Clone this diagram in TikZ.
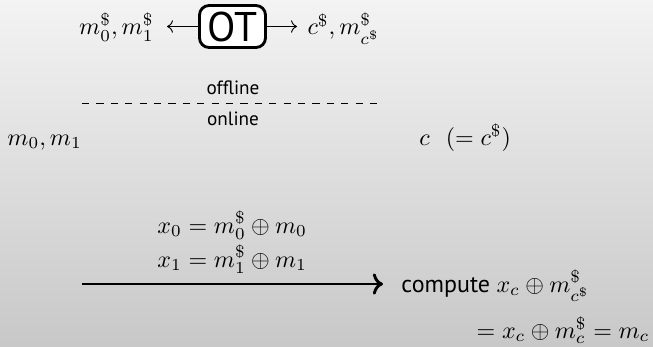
\documentclass[tikz,border=0pt]{standalone}
\usepackage{fontspec}
\setsansfont{PT Sans}
\usetikzlibrary{arrows.meta}
\definecolor{bgtop}{HTML}{F3F3F3}
\definecolor{bgbot}{HTML}{C8C8C8}
\begin{document}
\begin{tikzpicture}[x=0.41667pt,y=-0.41667pt,
  lbl/.style={inner sep=0pt, font=\normalsize},
  sm/.style={inner sep=0pt, font=\sffamily\footnotesize},
  otbox/.style={draw, line width=1.2pt, rounded corners=4pt, fill=white,
    minimum width=27.5pt, minimum height=17.5pt, inner sep=0pt, font=\sffamily\LARGE},
  thinarr/.style={->, line width=0.4pt},
  thickarr/.style={->, line width=1.2pt}]
\shade[top color=bgtop, bottom color=bgbot] (0,0) rectangle (653,346);
\useasboundingbox (0,0) rectangle (653,346);

\node[otbox] (ot) at (232.5,26.5) {OT};
\node[lbl, anchor=base east, inner xsep=5.4pt] (ml) at (167,35) {$m_0^{\$}, m_1^{\$}$};
\node[lbl, anchor=base west, inner xsep=4.2pt] (cr) at (297,35) {$c^{\$}, m_{c^{\$}}^{\$}$};
\draw[thinarr] (ot.west) -- (ot.west -| ml.east);
\draw[thinarr] (ot.east) -- (ot.east -| cr.west);

\node[sm] (off) at (233,88) {offline};
\coordinate (dl) at (82,103);
\coordinate (dr) at (377,103);
\draw[dashed, line width=0.4pt] (dl) -- (dr);
\node[sm] (on) at (233,119) {online};

\node[lbl, anchor=base west] (a) at (7,145) {$m_0, m_1$};
\node[lbl, anchor=base west] (b) at (419,145) {$c\ \ (=c^{\$})$};

\node[lbl, anchor=base west] (x0) at (157,233) {$x_0 = m_0^{\$}\oplus m_0$};
\node[lbl, anchor=base west] (x1) at (157,267) {$x_1 = m_1^{\$}\oplus m_1$};
\coordinate (al) at (82,284);
\coordinate (ar) at (383,284);
\draw[thickarr] (al) -- (ar);

\node[lbl, anchor=base west] (comp) at (401,292) {\sffamily compute $x_c\oplus m_{c^{\$}}^{\$}$};
\node[lbl, anchor=base east] (res) at (650,338) {$= x_c\oplus m_c^{\$} = m_c$};
\end{tikzpicture}
\end{document}
